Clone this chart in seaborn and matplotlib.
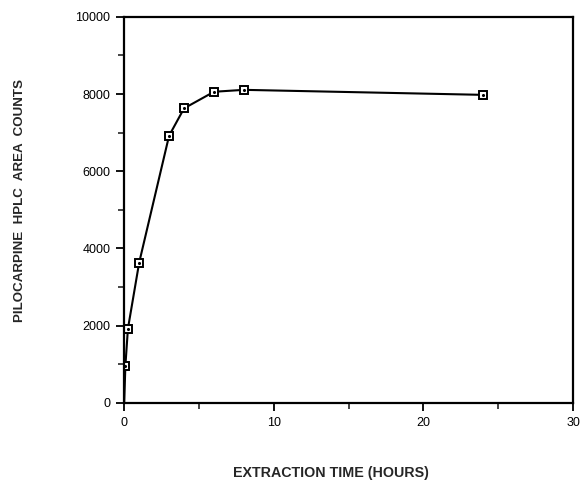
import matplotlib
matplotlib.use("Agg")
import matplotlib.pyplot as plt
import seaborn as sns
import pandas as pd
from matplotlib.ticker import MultipleLocator

# Data (hours, area counts); first point is the origin (line only)
time_hours = [0.0, 0.08, 0.25, 1.0, 3.0, 4.0, 6.0, 8.0, 24.0]
area_counts = [0, 960, 1920, 3630, 6920, 7630, 8060, 8110, 7980]
x_ticks = [0, 10, 20, 30]
y_ticks = [0, 2000, 4000, 6000, 8000, 10000]

df = pd.DataFrame({"t": time_hours, "a": area_counts})

sns.set_style("ticks")
plt.rcParams["font.family"] = ["Liberation Sans", "DejaVu Sans"]

fig = plt.figure(figsize=(5.83, 4.83), dpi=100)
ax = fig.add_axes([0.213, 0.166, 0.77, 0.799])

sns.lineplot(data=df, x="t", y="a", ax=ax, color="black", linewidth=1.5,
             marker="s", markersize=5.5, markerfacecolor="white",
             markeredgecolor="black", markeredgewidth=1.4,
             markevery=list(range(1, len(time_hours))))
ax.scatter(time_hours[1:], area_counts[1:], s=1.5, color="black", zorder=5)

ax.set_xlim(0, 30)
ax.set_ylim(0, 10000)
ax.set_xticks(x_ticks)
ax.set_yticks(y_ticks)
ax.xaxis.set_minor_locator(MultipleLocator(5))
ax.yaxis.set_minor_locator(MultipleLocator(1000))
ax.set_xticklabels([str(v) for v in x_ticks])
ax.set_yticklabels([str(v) for v in y_ticks])

for s in ax.spines.values():
    s.set_linewidth(1.6)
    s.set_color("black")

ax.tick_params(axis="both", which="major", direction="out", length=6, width=1.3,
               labelsize=9, pad=4, colors="black")
ax.tick_params(axis="both", which="minor", direction="out", length=4, width=1.2)

ax.set_xlabel("EXTRACTION TIME (HOURS)", fontsize=10.3, fontweight="bold")
ax.set_ylabel("PILOCARPINE  HPLC  AREA  COUNTS", fontsize=9.6, fontweight="bold")
ax.xaxis.set_label_coords(0.46, -0.165)
ax.yaxis.set_label_coords(-0.219, 0.525)

fig.savefig("out.png", dpi=100)
